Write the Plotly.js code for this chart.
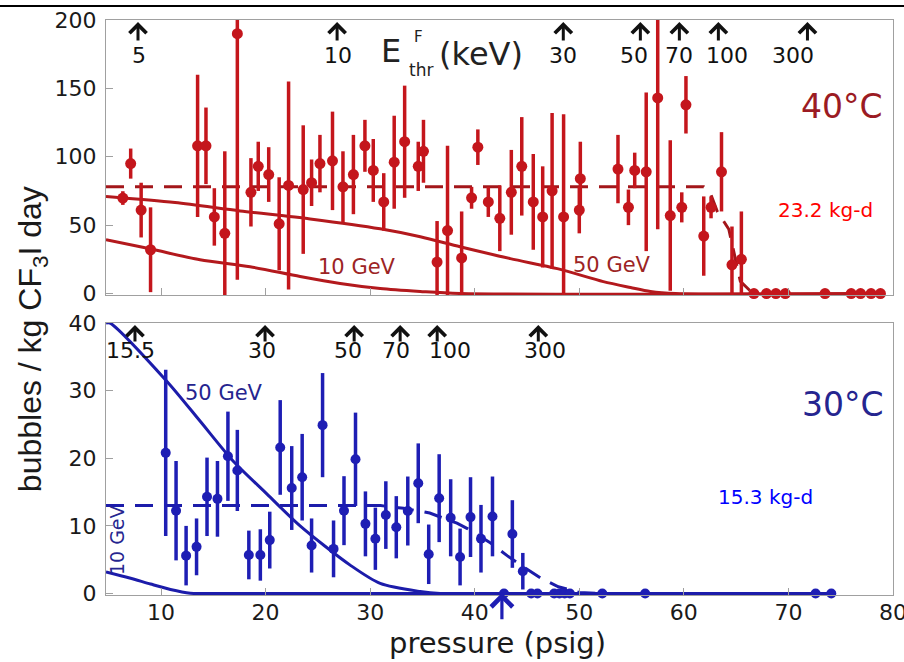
<!DOCTYPE html>
<html>
<head>
<meta charset="utf-8">
<script src="https://cdn.plot.ly/plotly-3.0.1.min.js"></script>
<style>html,body{margin:0;padding:0;background:#fff;}#chart{width:904px;height:662px;}</style>
</head>
<body>
<div id="chart"></div>
<script>
// ---------------- DATA ----------------
// 40°C panel (top): measured rates (bubbles / kg CF3I day) vs pressure (psig)
const hotX   = [6.35, 7.1, 8.1, 9.0, 13.5, 14.3, 15.1, 16.1, 17.3, 18.6, 19.3, 20.3, 21.3, 22.2, 23.6, 24.4, 25.2, 26.4, 27.4, 28.4,
                29.5, 30.3, 31.3, 32.3, 33.3, 34.6, 35.1, 36.4, 37.4, 38.75, 39.7, 40.3, 41.3, 42.4, 43.5, 44.5, 45.6, 46.5, 47.4, 48.5,
                50.0, 50.1, 53.7, 54.7, 55.3, 56.4, 57.5, 58.7, 59.8, 60.2, 61.9, 62.6, 63.6, 64.6, 65.5,
                66.7, 67.9, 68.8, 69.7, 73.5, 76.0, 76.9, 77.9, 78.8];
const hotY   = [69.8, 95, 61, 32, 108, 108, 56, 44, 190, 74, 93, 87, 51, 79, 76, 81, 95, 97, 78, 87,
                108, 90, 67, 96, 111, 93, 104, 23, 46, 26, 70, 107, 67, 55, 74, 93, 67, 56, 75, 56,
                61, 84, 91, 63, 90, 89, 143, 57, 63, 138, 42, 63, 89, 21, 25,
                0, 0, 0, 0, 0, 0, 0, 0, 0];
const hotErr = [5, 11, 20, 31, 52, 28, 21, 60, 180, 25, 18, 20, 34, 76, 47, 17, 21, 36, 26, 29,
                19, 23, 21, 34, 41, 18, 23, 30, 62, 34, 8, 13, 11, 24, 31, 36, 35, 37, 57, 75,
                17, 27, 25, 13, 13, 58, 96, 55, 11, 21, 29, 8, 29, 28, 35,
                0, 0, 0, 0, 0, 0, 0, 0, 0];
// 40°C model curves
const hot50X  = [4.74, 11.34, 17.56, 24.26, 30.96, 34.8, 38.6, 43.4, 47.9, 52.3, 54.9, 56.8, 59.2, 78.8];
const hot50Y  = [70.9, 66.5, 60.4, 54.5, 47.3, 41.5, 34.2, 25.5, 18.2, 8.7, 4.4, 1.5, 0, 0];
const hot10X  = [4.74, 8.95, 13.73, 18.52, 23.30, 27.13, 30.96, 34.78, 38.61, 78.8];
const hot10Y  = [39.3, 32.7, 24.7, 19.6, 12.4, 7.3, 3.6, 1.5, 0, 0];
const hotBgX  = [4.74, 61.9, 62.6, 63.2, 64.3, 64.8, 65.4, 66.4, 67.2];
const hotBgY  = [78, 78, 72, 60, 47, 30, 9, 1.5, 0];

// 30°C panel (bottom)
const coldX   = [10.45, 11.44, 12.4, 13.4, 14.4, 15.4, 16.4, 17.3, 18.4, 19.5, 20.4, 21.4, 22.5, 23.5, 24.4, 25.45, 26.5, 27.5,
                 28.6, 29.55, 30.5, 31.5, 32.5, 33.6, 34.6, 35.6, 36.6, 37.7, 38.6, 39.6, 40.6, 41.7, 43.6, 44.6,
                 42.8, 45.4, 46.0, 47.6, 48.1, 48.6, 49.1, 52.2, 56.3, 72.6, 74.1];
const coldY   = [20.8, 12.25, 5.6, 6.9, 14.3, 14.0, 20.3, 18.2, 5.7, 5.7, 7.9, 21.6, 15.6, 17.2, 7.1, 24.9, 6.6, 12.25,
                 19.85, 10.3, 8.1, 11.6, 9.8, 12.2, 16.3, 5.8, 14.1, 11.2, 5.4, 11.3, 8.1, 11.4, 8.8, 3.3,
                 0, 0, 0, 0, 0, 0, 0, 0, 0, 0, 0];
const coldErr = [12.3, 7.35, 4.4, 4.2, 5.8, 5.6, 6.6, 6.0, 3.6, 3.8, 4.2, 7.0, 6.2, 6.4, 4.0, 7.7, 4.2, 5.1,
                 6.9, 4.8, 4.6, 5.0, 4.6, 5.1, 5.9, 4.4, 6.5, 5.7, 4.2, 5.9, 5.0, 5.9, 5.0, 2.7,
                 0, 0, 0, 0, 0, 0, 0, 0, 0, 0, 0];
const cold50X = [4.74, 5.12, 10.55, 13.73, 16.89, 20.14, 23.30, 28.09, 30.96, 34.78, 36.7, 74.1];
const cold50Y = [40.0, 40.0, 31.4, 25.5, 19.6, 14.7, 10.0, 4.2, 1.5, 0.3, 0, 0];
const cold10X = [4.74, 7.0, 9.0, 10.9, 12.8, 14.0, 74.1];
const cold10Y = [3.2, 2.3, 1.4, 0.6, 0.05, 0, 0];
const coldBgX = [4.74, 31, 33.2, 35.7, 38.3, 39.3, 41.4, 43.1, 44.9, 46.4, 48.0, 50.0, 52.0];
const coldBgY = [13, 13, 12.6, 11.9, 10.4, 9.6, 7.6, 5.6, 3.7, 2.2, 1.0, 0.15, 0];

// Threshold-energy markers (keV) along the pressure axis
const hotThrX      = [7.80, 26.84, 48.47, 55.84, 59.57, 63.30, 71.82];
const hotThrLabels = ['5', '10', '30', '50', '70', '100', '300'];
const coldThrX      = [7.51, 19.95, 28.47, 32.87, 36.41, 46.08];
const coldThrLabels = ['15.5', '30', '50', '70', '100', '300'];
const hotCutX  = 63.3;   // red arrow under 40°C panel
const coldCutX = 42.6;   // blue arrow under 30°C panel

const xTicks    = [10, 20, 30, 40, 50, 60, 70, 80];
const hotTicks  = [0, 50, 100, 150, 200];
const coldTicks = [0, 10, 20, 30, 40];

// ---------------- STYLE ----------------
const RED = '#c4161c', RED_LINE = '#b3191d', RED_DARK = '#9b1b23';
const BLUE = '#1e1eb4', BLUE_LINE = '#1c1caa', BLUE_DARK = '#25258f';
const hotLabelShift  = [1, 1, 0, -6, 0, 9, -14];
const coldLabelShift = [-4, -3, -6, -4, 13, 7];

function split(xs, ys, es, zero) {
  const o = {x: [], y: [], e: []};
  xs.forEach((x, i) => { if ((ys[i] === 0) === zero) { o.x.push(x); o.y.push(ys[i]); o.e.push(es[i]); } });
  return o;
}
const hotP = split(hotX, hotY, hotErr, false), hotZ = split(hotX, hotY, hotErr, true);
const coldP = split(coldX, coldY, coldErr, false), coldZ = split(coldX, coldY, coldErr, true);

const curve = (x, y, xa, ya, color, dash) => ({x, y, xaxis: xa, yaxis: ya, type: 'scatter', mode: 'lines',
  line: {color, width: 3, shape: dash ? 'linear' : 'spline', smoothing: 0.8, dash: dash || 'solid'}, hoverinfo: 'skip'});

const traces = [
  curve(hot50X, hot50Y, 'x2', 'y2', RED_LINE),
  curve(hot10X, hot10Y, 'x2', 'y2', RED_LINE),
  curve(hotBgX, hotBgY, 'x2', 'y2', '#a3161a', '18px,11px'),
  {x: hotP.x, y: hotP.y, xaxis: 'x2', yaxis: 'y2', type: 'scatter', mode: 'markers',
   marker: {color: RED, size: 11}, error_y: {type: 'data', array: hotP.e, visible: true, thickness: 3.5, width: 0, color: RED}},
  {x: hotZ.x, y: hotZ.y, xaxis: 'x2', yaxis: 'y2', type: 'scatter', mode: 'markers', cliponaxis: false,
   marker: {color: RED, size: 11}},
  curve(cold50X, cold50Y, 'x', 'y', BLUE_LINE),
  curve(cold10X, cold10Y, 'x', 'y', BLUE_LINE),
  curve(coldBgX, coldBgY, 'x', 'y', BLUE_LINE, '18px,11px'),
  {x: coldP.x, y: coldP.y, xaxis: 'x', yaxis: 'y', type: 'scatter', mode: 'markers',
   marker: {color: BLUE, size: 10}, error_y: {type: 'data', array: coldP.e, visible: true, thickness: 3.5, width: 0, color: BLUE}},
  {x: coldZ.x, y: coldZ.y, xaxis: 'x', yaxis: 'y', type: 'scatter', mode: 'markers', cliponaxis: false,
   marker: {color: BLUE, size: 10}}
];

const axisBase = {showline: true, linecolor: '#a0a0a0', linewidth: 1, mirror: true, ticks: 'inside', ticklen: 7,
  tickcolor: '#a0a0a0', showgrid: false, zeroline: false, tickfont: {family: 'DejaVu Sans', size: 22, color: '#1a1a1a'}};

const ann = [];
hotThrX.forEach((x, i) => {
  ann.push({x, y: 198.5, xref: 'x2', yref: 'y2', text: '', showarrow: true, ax: 0, ay: 20,
    arrowhead: 4, arrowsize: 1.1, arrowwidth: 3, arrowcolor: '#111'});
  ann.push({x, y: 174.4, xref: 'x2', yref: 'y2', text: hotThrLabels[i], showarrow: false, xshift: hotLabelShift[i],
    xanchor: 'center', yanchor: 'middle', font: {family: 'DejaVu Sans', size: 22, color: '#111'}});
});
coldThrX.forEach((x, i) => {
  ann.push({x, y: 39.7, xref: 'x', yref: 'y', text: '', showarrow: true, ax: 0, ay: 18,
    arrowhead: 4, arrowsize: 1.1, arrowwidth: 3, arrowcolor: '#111'});
  ann.push({x, y: 36.0, xref: 'x', yref: 'y', text: coldThrLabels[i], showarrow: false, xshift: coldLabelShift[i],
    xanchor: 'center', yanchor: 'middle', font: {family: 'DejaVu Sans', size: 22, color: '#111'}});
});
ann.push({x: hotCutX, y: -1.9, xref: 'x2', yref: 'y2', text: '', showarrow: true, ax: 0, ay: 25,
  arrowhead: 4, arrowsize: 1.3, arrowwidth: 3.2, arrowcolor: RED});
ann.push({x: coldCutX, y: 0.1, xref: 'x', yref: 'y', text: '', showarrow: true, ax: 0, ay: 28,
  arrowhead: 4, arrowsize: 1.3, arrowwidth: 3.2, arrowcolor: BLUE});

const txt = (text, x, y, xr, yr, size, color, extra) => Object.assign({text, x, y, xref: xr, yref: yr, showarrow: false,
  xanchor: 'center', yanchor: 'middle', font: {family: 'DejaVu Sans', size, color}}, extra || {});

ann.push(txt('E', 32.0, 177.3, 'x2', 'y2', 32, '#222'));
ann.push(txt('F', 34.59, 187.6, 'x2', 'y2', 15, '#222'));
ann.push(txt('thr', 34.88, 163.5, 'x2', 'y2', 17, '#222'));
ann.push(txt('(keV)', 40.62, 175.1, 'x2', 'y2', 32, '#222'));
ann.push(txt('40°C', 75.17, 137.1, 'x2', 'y2', 33, RED_DARK));
ann.push(txt('23.2 kg-d', 73.54, 61.1, 'x2', 'y2', 20, '#ff0000'));
ann.push(txt('10 GeV', 28.76, 19.4, 'x2', 'y2', 21, '#9c2424'));
ann.push(txt('50 GeV', 53.16, 20.8, 'x2', 'y2', 21, '#9c2424'));
ann.push(txt('50 GeV', 16.03, 29.6, 'x', 'y', 21, BLUE_DARK));
ann.push(txt('10 GeV', 5.79, 7.9, 'x', 'y', 19, BLUE_DARK, {textangle: -90}));
ann.push(txt('30°C', 75.26, 27.9, 'x', 'y', 33, BLUE_DARK));
ann.push(txt('15.3 kg-d', 67.8, 14.3, 'x', 'y', 20, '#0000ff'));
ann.push(txt('pressure (psig)', 0.497, -0.084, 'paper', 'paper', 29, '#1a1a1a'));
ann.push({text: 'bubbles / kg CF<sub>3</sub>I day', x: -0.094, y: 0.445, xref: 'paper', yref: 'paper', showarrow: false,
  textangle: -90, xanchor: 'center', yanchor: 'middle', font: {family: 'Liberation Sans', size: 32, color: '#1a1a1a'}});

const layout = {
  width: 904, height: 662,
  margin: {l: 106, r: 11, t: 20, b: 67},
  paper_bgcolor: '#ffffff', plot_bgcolor: '#ffffff',
  showlegend: false,
  xaxis: Object.assign({}, axisBase, {anchor: 'y', range: [4.74, 80], tickvals: xTicks, ticktext: xTicks.map(String),
    ticklabelstandoff: -2, ticklabeloverflow: 'allow'}),
  yaxis: Object.assign({}, axisBase, {domain: [0, 0.473], range: [-0.22, 40], tickvals: coldTicks, ticklabelstandoff: 4}),
  xaxis2: Object.assign({}, axisBase, {anchor: 'y2', range: [4.74, 80], tickvals: xTicks, showticklabels: false}),
  yaxis2: Object.assign({}, axisBase, {anchor: 'x2', domain: [0.5217, 1], range: [-1.1, 200], tickvals: hotTicks, ticklabelstandoff: 4}),
  shapes: [{type: 'line', xref: 'paper', yref: 'paper', x0: -0.1347, x1: 1.014, y0: 1.0243, y1: 1.0243,
    line: {color: '#000', width: 2}}],
  annotations: ann
};

Plotly.newPlot('chart', traces, layout, {staticPlot: true, displayModeBar: false});
</script>
</body>
</html>
